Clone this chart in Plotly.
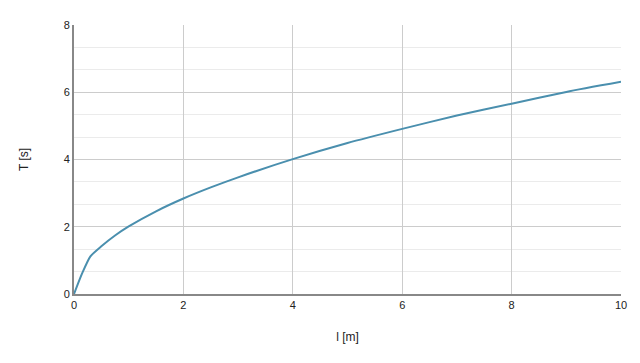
import plotly.graph_objects as go

# pendulum length l [m] and period T [s]
length_m = [0, 0.15, 0.3, 0.5, 0.75, 1, 1.5, 2, 2.5, 3, 4, 5, 6, 7, 8, 9, 10]
period_s = [0, 0.62, 1.12, 1.42, 1.74, 2.01, 2.46, 2.84, 3.17, 3.47, 4.01, 4.49, 4.91, 5.31, 5.66, 6.01, 6.31]

x_ticks = [0, 2, 4, 6, 8, 10]
y_ticks = [0, 2, 4, 6, 8]

fig = go.Figure()
fig.add_trace(go.Scatter(
    x=length_m, y=period_s, mode="lines",
    line=dict(color="#4a8fae", width=2, shape="spline", smoothing=0.6),
    showlegend=False, hoverinfo="x+y",
))

font = dict(family="Liberation Sans, Arial, sans-serif", size=11, color="#222222")

fig.update_layout(
    width=640, height=363,
    margin=dict(l=74, r=19, t=25, b=69),
    paper_bgcolor="white", plot_bgcolor="white",
    font=font,
    xaxis=dict(
        range=[0, 10], tickvals=x_ticks, ticktext=[str(v) for v in x_ticks],
        showgrid=True, gridcolor="#cccccc", gridwidth=1,
        zeroline=False, showline=True, linecolor="#888888", linewidth=2,
        ticks="", tickfont=font,
        title=dict(text="l [m]", font=dict(size=12, family=font["family"], color="#222222"), standoff=22),
        fixedrange=True,
    ),
    yaxis=dict(
        range=[0, 8], tickvals=y_ticks, ticktext=[str(v) for v in y_ticks],
        showgrid=True, gridcolor="#cccccc", gridwidth=1,
        minor=dict(dtick=2/3, tick0=0, showgrid=True, gridcolor="#ebebeb", gridwidth=1, ticks=""),
        zeroline=False, showline=True, linecolor="#888888", linewidth=2,
        ticks="", tickfont=font,
        title=dict(text="T [s]", font=dict(size=12, family=font["family"], color="#222222"), standoff=32),
        fixedrange=True,
    ),
)

fig.write_html("out.html")
